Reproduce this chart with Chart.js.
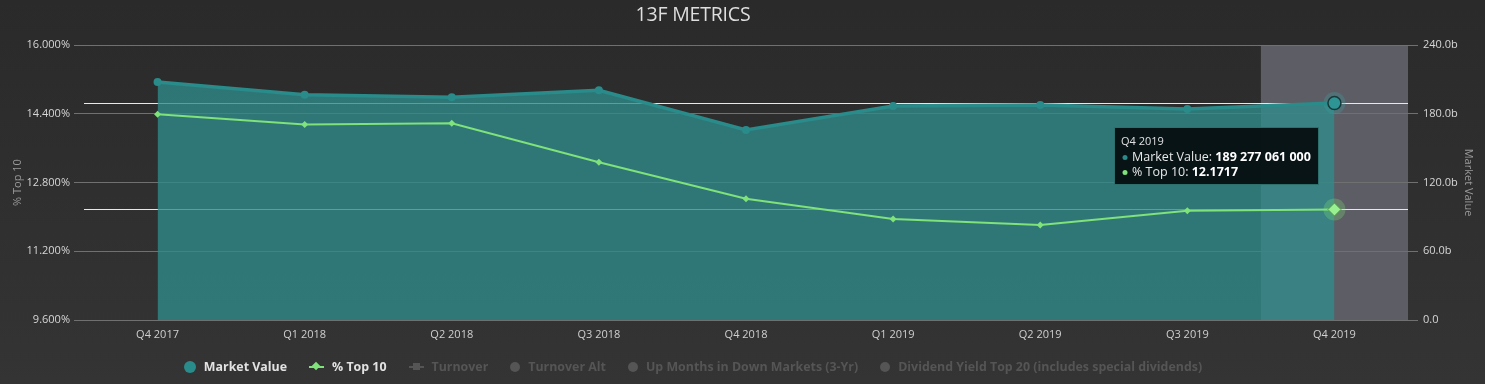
<!DOCTYPE html>
<html><head><meta charset="utf-8">
<script src="https://cdn.jsdelivr.net/npm/chart.js@4.4.1/dist/chart.umd.min.js"></script>
<style>
html,body{margin:0;padding:0;width:1485px;height:384px;overflow:hidden;background:linear-gradient(#2a2a2a,#343434);font-family:"Open Sans",sans-serif}
#wrap{position:relative;width:1485px;height:384px}
canvas{position:absolute;left:0;top:0}
#title{position:absolute;left:0;width:1386px;top:0px;text-align:center;color:#dedede;font-size:19.5px;font-weight:400;letter-spacing:-0.2px}
#legend{position:absolute;left:0;width:1386px;top:358px;display:flex;justify-content:center;align-items:center;font-size:12.4px;font-weight:700}
.li{display:flex;align-items:center;margin:0 11px;white-space:nowrap}
.ic{position:relative;display:inline-block;margin-right:8px}
.dot{width:12px;height:12px;border-radius:50%}
.sdot{width:10px;height:10px;border-radius:50%}
.ln{width:15px;height:2px}
.ln i{position:absolute;left:4px;top:-3px;width:6px;height:6px;transform:rotate(45deg)}
.ln b{position:absolute;left:4px;top:-3px;width:7px;height:7px}
</style></head>
<body><div id="wrap">
<canvas id="c" width="1485" height="384"></canvas>
<div id="title"></div>
<div id="legend"></div>
</div>
<script>
const chartTitle = '13F METRICS';
const categories = ['Q4 2017','Q1 2018','Q2 2018','Q3 2018','Q4 2018','Q1 2019','Q2 2019','Q3 2019','Q4 2019'];
const marketValue = [207.7e9, 196.6e9, 194.3e9, 200.5e9, 165.8e9, 186.8e9, 187.6e9, 184.2e9, 189277061000];
const pctTop10 = [14.39, 14.15, 14.18, 13.27, 12.42, 11.95, 11.81, 12.14, 12.1717];
const leftTicks = [9.6, 11.2, 12.8, 14.4, 16.0];
const rightTicks = [0, 60e9, 120e9, 180e9, 240e9];
const legendNames = ['Market Value','% Top 10','Turnover','Turnover Alt','Up Months in Down Markets (3-Yr)','Dividend Yield Top 20 (includes special dividends)'];
const activeIndex = 8;

const TEAL = '#2a8b8b', GREEN = '#7fe27a', OFF = '#555555';

document.getElementById('title').textContent = chartTitle;
const lg = document.getElementById('legend');
legendNames.forEach((n,i)=>{
  const d=document.createElement('div'); d.className='li';
  let ic;
  if(i===0){ic='<span class="ic dot" style="background:'+TEAL+'"></span>';}
  else if(i===1){ic='<span class="ic ln" style="background:'+GREEN+'"><i style="background:'+GREEN+'"></i></span>';}
  else if(i===2){ic='<span class="ic ln" style="background:'+OFF+'"><b style="background:'+OFF+'"></b></span>';}
  else {ic='<span class="ic sdot" style="background:'+OFF+'"></span>';}
  d.innerHTML=ic+'<span style="color:'+(i<2?'#e2e2e2':OFF)+'">'+n+'</span>';
  lg.appendChild(d);
});

function spaced(v){return Math.round(v).toString().replace(/\B(?=(\d{3})+(?!\d))/g,' ');}

const bgPlugin = {
  id:'bg',
  beforeDraw(chart){
    const {ctx, chartArea:a, scales:{x}} = chart;
    const w = a.width/categories.length;
    const cx = x.getPixelForValue(activeIndex);
    ctx.save(); ctx.fillStyle='#5d5e65';
    ctx.fillRect(cx-w/2, a.top, w, a.bottom-a.top);
    ctx.restore();
  },
  beforeDatasetsDraw(chart){
    const {ctx, chartArea:a} = chart;
    const ys=[chart.getDatasetMeta(1).data[activeIndex].y, chart.getDatasetMeta(0).data[activeIndex].y];
    ctx.save(); ctx.strokeStyle='#e8e8e8'; ctx.lineWidth=1;
    ys.forEach(y=>{ctx.beginPath();ctx.moveTo(a.left,Math.round(y)+0.5);ctx.lineTo(a.right,Math.round(y)+0.5);ctx.stroke();});
    ctx.restore();
  },
  beforeDatasetDraw(chart,args){
    const el = chart.getDatasetMeta(args.index).data[activeIndex];
    const ctx=chart.ctx; ctx.save();
    ctx.fillStyle = args.index===1 ? 'rgba(60,160,160,0.3)' : 'rgba(127,226,122,0.28)';
    ctx.beginPath(); ctx.arc(el.x,el.y,11,0,Math.PI*2); ctx.fill(); ctx.restore();
  },
  afterDraw(chart){
    const ctx=chart.ctx;
    const mv=chart.getDatasetMeta(1).data[activeIndex];
    const t=categories[activeIndex];
    const rows=[['Market Value: ',spaced(marketValue[activeIndex]),TEAL],['% Top 10: ',pctTop10[activeIndex].toFixed(4),GREEN]];
    const fN='12.5px "Open Sans"', fB='bold 12.5px "Open Sans"';
    ctx.save();
    let maxW=0;
    rows.forEach(r=>{ctx.font=fN;let w=ctx.measureText(r[0]).width;ctx.font=fB;w+=ctx.measureText(r[1]).width;maxW=Math.max(maxW,w);});
    const w=Math.round(18+maxW+8), h=58;
    const x0=Math.round(mv.x-15-w), y0=Math.round(mv.y+24);
    ctx.fillStyle='rgba(6,16,18,0.96)'; ctx.fillRect(x0,y0,w,h);
    ctx.strokeStyle='#2d6f6d'; ctx.lineWidth=1; ctx.strokeRect(x0+0.5,y0+0.5,w-1,h-1);
    ctx.textBaseline='middle'; ctx.fillStyle='#e0e0e0'; ctx.font='11px "Open Sans"';
    ctx.fillText(t,x0+7,y0+15);
    rows.forEach((r,i)=>{
      const y=y0+30+i*15;
      ctx.fillStyle=r[2]; ctx.beginPath(); ctx.arc(x0+11,y+0.5,2.5,0,Math.PI*2); ctx.fill();
      ctx.fillStyle='#e8e8e8'; ctx.font=fN; ctx.fillText(r[0],x0+18,y);
      const lw=ctx.measureText(r[0]).width;
      ctx.fillStyle='#ffffff'; ctx.font=fB; ctx.fillText(r[1],x0+18+lw,y);
    });
    ctx.restore();
  }
};

const isA = c => c.dataIndex===activeIndex;
new Chart(document.getElementById('c'), {
  type:'line',
  data:{
    labels:categories,
    datasets:[
      {label:legendNames[1], data:pctTop10, yAxisID:'y', order:0,
       borderColor:GREEN, borderWidth:2, fill:false, tension:0,
       pointStyle:'rectRot', pointRadius:c=>isA(c)?6.5:3.5,
       pointBackgroundColor:c=>isA(c)?'#98f090':GREEN,
       pointBorderColor:c=>isA(c)?'#4f9a4b':GREEN, pointBorderWidth:c=>isA(c)?1:0},
      {label:legendNames[0], data:marketValue, yAxisID:'y1', order:1,
       borderColor:TEAL, borderWidth:3.5, fill:'origin', backgroundColor:'rgba(47,140,138,0.78)', tension:0,
       pointStyle:'circle', pointRadius:c=>isA(c)?6.5:4,
       pointBackgroundColor:c=>isA(c)?'#2f9494':TEAL,
       pointBorderColor:c=>isA(c)?'#163a3a':TEAL, pointBorderWidth:c=>isA(c)?1.5:0}
    ]
  },
  options:{
    responsive:false, animation:false, events:[], devicePixelRatio:1,
    layout:{padding:{top:45,left:0,right:0,bottom:0}},
    plugins:{legend:{display:false}, tooltip:{enabled:false}, title:{display:false}},
    scales:{
      x:{type:'category', offset:true, grid:{display:false, drawTicks:false}, border:{display:false},
         ticks:{color:'#cfcfcf', font:{family:'"Open Sans"', size:11}, padding:8, maxRotation:0},
         afterFit(s){s.height=64;}},
      y:{position:'left', min:9.6, max:16,
         afterBuildTicks(s){s.ticks=leftTicks.map(v=>({value:v}));},
         afterFit(s){s.width=84;},
         grid:{color:'#707070', tickLength:10, drawTicks:true}, border:{display:false},
         ticks:{color:'#d6d6d6', font:{family:'"Open Sans"', size:11}, padding:4, callback:v=>v.toFixed(3)+'%'},
         title:{display:true, text:legendNames[1], color:'#9a9a9a', font:{family:'"Open Sans"', size:11}, padding:{top:11,bottom:0}}},
      y1:{position:'right', min:0, max:240e9,
         afterBuildTicks(s){s.ticks=rightTicks.map(v=>({value:v}));},
         afterFit(s){s.width=77;},
         grid:{color:'#707070', tickLength:10, drawTicks:true, drawOnChartArea:false}, border:{display:false},
         ticks:{color:'#d6d6d6', font:{family:'"Open Sans"', size:11}, padding:5, callback:v=>(v/1e9).toFixed(1)+(v===0?'':'b')},
         title:{display:true, text:legendNames[0], color:'#9a9a9a', font:{family:'"Open Sans"', size:11}, padding:{top:10,bottom:0}}}
    }
  },
  plugins:[bgPlugin]
});
</script>
</body></html>
